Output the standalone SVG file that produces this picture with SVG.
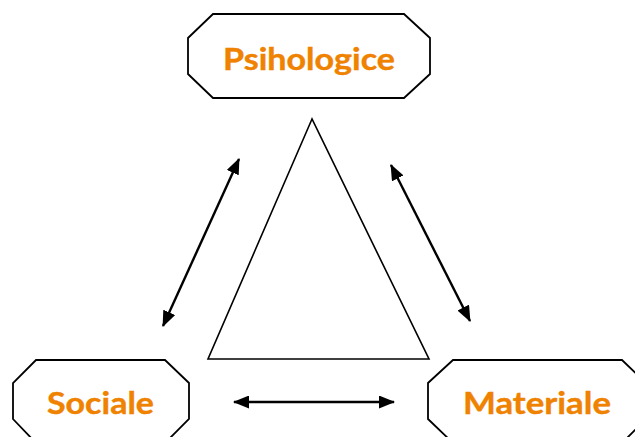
<svg xmlns="http://www.w3.org/2000/svg" width="635" height="437" viewBox="0 0 635 437">
<style>
.box{fill:#fff;stroke:#000;stroke-width:1.8}
.lbl{font-family:Lato,"Open Sans","Liberation Sans",sans-serif;font-weight:bold;font-size:31px;fill:#EF8200;text-anchor:middle;stroke:#EF8200;stroke-width:0.4}
.con{stroke:#000;stroke-width:2.4;fill:none}
</style>
<defs>
<marker id="ah" viewBox="0 0 16 13" refX="15" refY="6.5" markerWidth="16" markerHeight="13" orient="auto-start-reverse" markerUnits="userSpaceOnUse">
<path d="M0,0 L16,6.5 L0,13 z" fill="#000"/>
</marker>
</defs>
<rect width="635" height="437" fill="#fff"/>
<g id="triangle">
<polygon points="312,119 208,359 429,359" fill="#fff" stroke="#000" stroke-width="1.6"/>
</g>
<g id="psihologice">
<polygon class="box" points="213,14 404,14 430,38 430,74 404,98 213,98 188,74 188,38"/>
<text class="lbl" x="309" y="70" textLength="172" lengthAdjust="spacingAndGlyphs">Psihologice</text>
</g>
<g id="sociale">
<polygon class="box" points="36,360 165,360 189,383 189,419 165,443 36,443 13,419 13,383"/>
<text class="lbl" x="100.5" y="414" textLength="107" lengthAdjust="spacingAndGlyphs">Sociale</text>
</g>
<g id="materiale">
<polygon class="box" points="453,360 622,360 646,383 646,419 622,443 453,443 428,419 428,383"/>
<text class="lbl" x="537" y="414" textLength="148" lengthAdjust="spacingAndGlyphs">Materiale</text>
</g>
<g id="connectors">
<line class="con" x1="239" y1="159" x2="163" y2="326" marker-start="url(#ah)" marker-end="url(#ah)"/>
<line class="con" x1="391" y1="165" x2="470" y2="321" marker-start="url(#ah)" marker-end="url(#ah)"/>
<line class="con" x1="234" y1="402" x2="394" y2="402" marker-start="url(#ah)" marker-end="url(#ah)"/>
</g>
</svg>
